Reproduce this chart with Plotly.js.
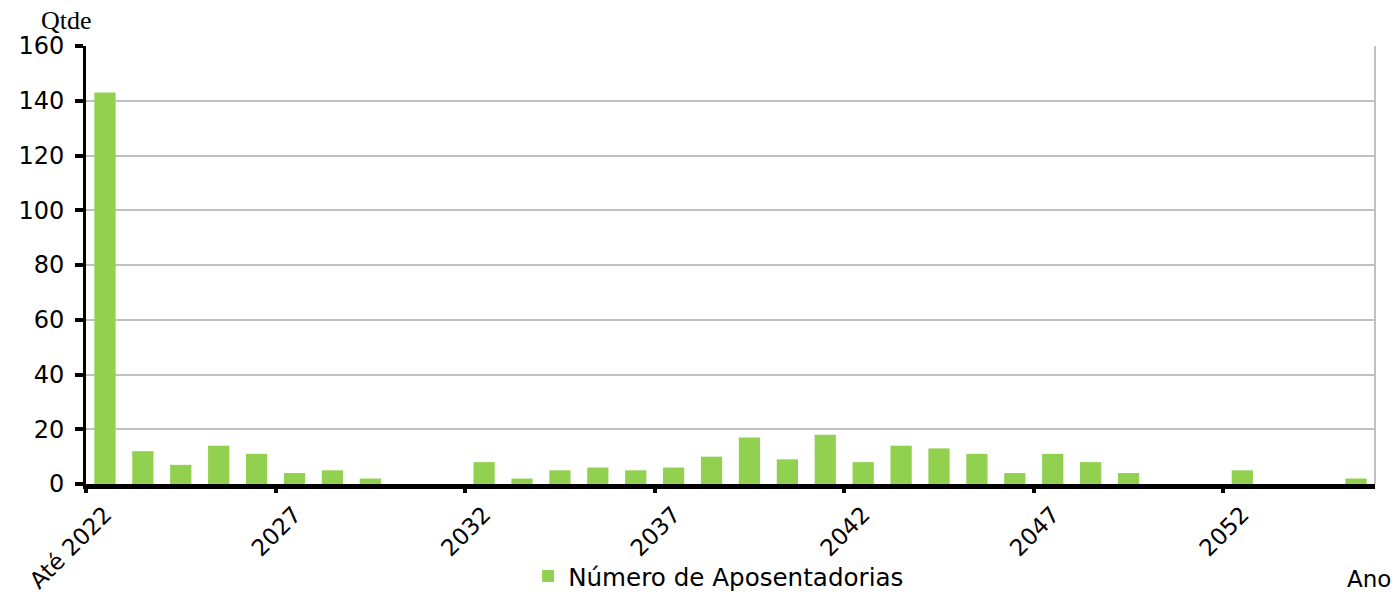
<!DOCTYPE html>
<html>
<head>
<meta charset="utf-8">
<script src="https://cdn.plot.ly/plotly-3.0.1.min.js"></script>
<style>
  html, body { margin: 0; padding: 0; background: #ffffff; }
  #chart { width: 1396px; height: 594px; }
</style>
</head>
<body>
<div id="chart"></div>
<script>
// ---- data ----
const categories = ['Até 2022', '2023', '2024', '2025', '2026', '2027', '2028', '2029',
  '2030', '2031', '2032', '2033', '2034', '2035', '2036', '2037', '2038', '2039',
  '2040', '2041', '2042', '2043', '2044', '2045', '2046', '2047', '2048', '2049',
  '2050', '2051', '2052', '2053', '2054', '2055'];
const aposentadorias = [143, 12, 7, 14, 11, 4, 5, 2,
  0, 0, 8, 2, 5, 6, 5, 6, 10, 17,
  9, 18, 8, 14, 13, 11, 4, 11, 8, 4,
  0, 0, 5, 0, 0, 2];
const tickLabels = ['Até 2022', '2027', '2032', '2037', '2042', '2047', '2052'];
const yTicks = [0, 20, 40, 60, 80, 100, 120, 140, 160];
const seriesName = 'Número de Aposentadorias';

// tick marks sit on category boundaries (left edge of each labelled category)
const boundaryTicks = tickLabels.map(l => categories.indexOf(l) - 0.5);

const sans = 'DejaVu Sans, Arial, sans-serif';

const traces = [
  {
    type: 'bar',
    x: categories,
    y: aposentadorias,
    name: seriesName,
    marker: { color: '#92D050', line: { width: 0 } },
    hoverinfo: 'x+y'
  },
  {
    type: 'scatter',
    x: [],
    y: [],
    xaxis: 'x2',
    yaxis: 'y',
    showlegend: false,
    hoverinfo: 'skip'
  }
];

const layout = {
  width: 1396,
  height: 594,
  paper_bgcolor: '#ffffff',
  plot_bgcolor: '#ffffff',
  margin: { l: 86, r: 21, t: 46, b: 110, autoexpand: false },
  bargap: 0.44,
  showlegend: true,
  font: { family: sans, size: 24, color: '#000000' },
  xaxis: {
    type: 'category',
    range: [-0.5, categories.length - 0.5],
    showline: true,
    linecolor: '#000000',
    linewidth: 5,
    showgrid: false,
    zeroline: false,
    ticks: '',
    tickmode: 'array',
    tickvals: tickLabels,
    ticktext: tickLabels,
    tickangle: -45,
    ticklabelstandoff: 3,
    tickfont: { family: sans, size: 23, color: '#000000' },
    automargin: false,
    fixedrange: true
  },
  xaxis2: {
    type: 'linear',
    overlaying: 'x',
    anchor: 'y',
    side: 'bottom',
    range: [-0.5, categories.length - 0.5],
    showline: false,
    showgrid: false,
    zeroline: false,
    ticks: 'outside',
    ticklen: 8,
    tickwidth: 4,
    tickcolor: '#000000',
    tickmode: 'array',
    tickvals: boundaryTicks,
    showticklabels: false,
    automargin: false,
    fixedrange: true
  },
  yaxis: {
    range: [0, 160],
    tickmode: 'array',
    tickvals: yTicks,
    showgrid: true,
    gridcolor: '#c0c0c0',
    gridwidth: 2,
    showline: true,
    linecolor: '#000000',
    linewidth: 3,
    zeroline: false,
    ticks: 'outside',
    ticklen: 8,
    tickwidth: 4,
    tickcolor: '#000000',
    ticklabelstandoff: 6,
    tickfont: { family: sans, size: 24, color: '#000000' },
    automargin: false,
    fixedrange: true
  },
  legend: {
    orientation: 'h',
    x: 0.343,
    xanchor: 'left',
    y: -0.21,
    yanchor: 'middle',
    font: { family: sans, size: 24.6, color: '#000000' },
    bgcolor: 'rgba(0,0,0,0)'
  },
  shapes: [
    {
      type: 'line', xref: 'paper', yref: 'paper',
      x0: 1, x1: 1, y0: 0, y1: 1,
      line: { color: '#c0c0c0', width: 2 }
    }
  ],
  annotations: [
    {
      text: 'Qtde',
      xref: 'paper', yref: 'paper',
      x: 0, y: 1,
      xanchor: 'right', yanchor: 'bottom',
      xshift: 8, yshift: 9,
      showarrow: false,
      font: { family: 'Liberation Serif, Times New Roman, serif', size: 26, color: '#000000' }
    },
    {
      text: 'Ano',
      xref: 'paper', yref: 'paper',
      x: 1, y: 0,
      xanchor: 'right', yanchor: 'bottom',
      xshift: 18, yshift: -110,
      showarrow: false,
      font: { family: sans, size: 23, color: '#000000' }
    }
  ]
};

Plotly.newPlot('chart', traces, layout, { displayModeBar: false, staticPlot: true });
</script>
</body>
</html>
